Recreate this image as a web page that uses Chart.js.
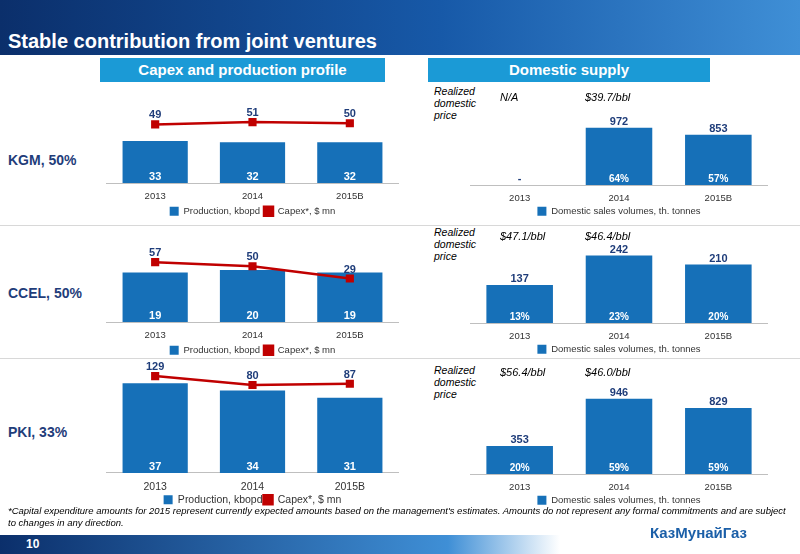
<!DOCTYPE html>
<html><head><meta charset="utf-8">
<script src="https://cdn.jsdelivr.net/npm/chart.js@4"></script>
<style>
body{margin:0;width:800px;height:554px;position:relative;overflow:hidden;background:#fff;font-family:Arial,"Liberation Sans",sans-serif}
.abs{position:absolute}
#hdr{left:0;top:0;width:800px;height:55px;background:linear-gradient(90deg,#0b2f6b 0%,#1759a8 55%,#3f8fd6 100%)}
#title{left:8px;top:30px;color:#fff;font-weight:bold;font-size:20px}
.sec{top:58px;height:24px;background:#1b9ad6;color:#fff;font-weight:bold;font-size:15px;text-align:center;line-height:24px}
.row{left:8px;color:#1f3d7a;font-weight:bold;font-size:14px}
.rdp{left:434px;font-style:italic;font-size:10.5px;line-height:12px}
.price{font-style:italic;font-size:11px}
.sep{left:0;width:800px;height:1px;background:#d8d8d8}
canvas{position:absolute}
#note{left:8px;top:505px;width:780px;font-style:italic;font-size:9.5px;line-height:12px}
#foot{left:0;top:535px;width:560px;height:19px;background:linear-gradient(90deg,#0b2f6b,#3f8fd6 80%,#fff)}
#pg{left:26px;top:537px;color:#fff;font-weight:bold;font-size:12px}
#logo{left:650px;top:524px;color:#1b5fa8;font-weight:bold;font-size:15px}
</style></head><body>
<div id="hdr" class="abs"></div>
<div id="title" class="abs">Stable contribution from joint ventures</div>
<div class="abs sec" style="left:100px;width:285px">Capex and production profile</div>
<div class="abs sec" style="left:428px;width:282px">Domestic supply</div>
<div class="abs row" style="top:152px">KGM, 50%</div>
<div class="abs row" style="top:285px">CCEL, 50%</div>
<div class="abs row" style="top:424px">PKI, 33%</div>
<div class="abs sep" style="top:225px"></div>
<div class="abs sep" style="top:358px"></div>
<div class="abs rdp" style="top:85px">Realized<br>domestic<br>price</div>
<div class="abs rdp" style="top:226px">Realized<br>domestic<br>price</div>
<div class="abs rdp" style="top:364px">Realized<br>domestic<br>price</div>
<canvas id="l1" class="abs"></canvas><canvas id="l2"></canvas><canvas id="l3"></canvas>
<canvas id="r1"></canvas><canvas id="r2"></canvas><canvas id="r3"></canvas>
<div id="note" class="abs">*Capital expenditure amounts for 2015 represent currently expected amounts based on the management's estimates. Amounts do not represent any formal commitments and are subject to changes in any direction.</div>
<div id="foot" class="abs"></div>
<div id="pg" class="abs">10</div>
<div id="logo" class="abs">КазМунайГаз</div>
<script>
const years = ["2013", "2014", "2015B"];
const kgmProd = [33, 32, 32], kgmCapex = [49, 51, 50];
const ccelProd = [19, 20, 19], ccelCapex = [57, 50, 29];
const pkiProd = [37, 34, 31], pkiCapex = [129, 80, 87];
const kgmSales = [0, 972, 853], kgmShare = [null, "64%", "57%"];
const ccelSales = [137, 242, 210], ccelShare = ["13%", "23%", "20%"];
const pkiSales = [353, 946, 829], pkiShare = ["20%", "59%", "59%"];
const prices = [["N/A", "$39.7/bbl"], ["$47.1/bbl", "$46.4/bbl"], ["$56.4/bbl", "$46.0/bbl"]];

const BLUE = "#1670b8", RED = "#c00000", NAVY = "#1f3d7a";

const labelsPlugin = {
  id: "lbls",
  afterDatasetsDraw(chart) {
    const ctx = chart.ctx;
    const o = chart.options.plugins.lbls;
    ctx.save();
    ctx.textAlign = "center";
    ctx.font = "bold 11px Arial";
    chart.data.datasets.forEach((ds, di) => {
      chart.getDatasetMeta(di).data.forEach((el, i) => {
        const v = ds.data[i];
        if (ds.type === "line") {
          ctx.fillStyle = NAVY;
          ctx.fillText(v, el.x, el.y - 9);
        } else if (o.inside) {
          ctx.fillStyle = "#fff";
          ctx.fillText(v, el.x, el.base - 6);
        } else {
          ctx.fillStyle = NAVY;
          ctx.fillText(v === 0 ? "-" : v, el.x, el.y - 6);
          if (o.share[i]) { ctx.fillStyle = "#fff"; ctx.font = "bold 10px Arial"; ctx.fillText(o.share[i], el.x, el.base - 6); ctx.font = "bold 11px Arial"; }
        }
      });
    });
    ctx.restore();
  }
};

function place(id, x, y, w, h) {
  const c = document.getElementById(id);
  c.style.left = x + "px"; c.style.top = y + "px";
  c.style.width = w + "px"; c.style.height = h + "px";
  c.width = w; c.height = h;
  return c;
}

const xAxis = fs => ({ grid: { display: false }, border: { color: "#bfbfbf" }, ticks: { color: "#333", font: { size: fs }, padding: 0 } });
const legend = (fs, pad) => ({ position: "bottom", labels: { boxWidth: 9, boxHeight: 9, font: { size: fs }, color: "#333", padding: pad } });

function leftChart(id, y, h, padTop, legPad, prod, capex, bmax, lmin, lmax, fs) {
  new Chart(place(id, 100, y, 305, h), {
    type: "bar",
    data: { labels: years, datasets: [
      { type: "line", label: "Capex*, $ mn", data: capex, borderColor: RED, backgroundColor: RED, borderWidth: 2.5, pointStyle: "rect", pointRadius: 4, yAxisID: "y2", order: 0 },
      { label: "Production, kbopd", data: prod, backgroundColor: BLUE, categoryPercentage: 0.67, barPercentage: 1, order: 1 }
    ] },
    options: {
      animation: false, responsive: false,
      layout: { padding: { top: padTop } },
      plugins: { legend: { ...legend(fs, legPad), reverse: true }, tooltip: { enabled: false }, lbls: { inside: true } },
      scales: { x: xAxis(fs), y: { display: false, min: 0, max: bmax }, y2: { display: false, min: lmin, max: lmax } }
    },
    plugins: [labelsPlugin]
  });
}

function rightChart(id, y, h, sales, share, max) {
  new Chart(place(id, 470, y, 298, h), {
    type: "bar",
    data: { labels: years, datasets: [
      { label: "Domestic sales volumes, th. tonnes", data: sales, backgroundColor: BLUE, categoryPercentage: 0.67, barPercentage: 1 }
    ] },
    options: {
      animation: false, responsive: false,
      plugins: { legend: legend(9.5, 2), tooltip: { enabled: false }, lbls: { inside: false, share: share } },
      scales: { x: xAxis(9.5), y: { display: false, min: 0, max: max } }
    },
    plugins: [labelsPlugin]
  });
}

leftChart("l1", 100, 126, 0, 4, kgmProd, kgmCapex, 60, 0, 64, 9.5);
leftChart("l2", 240, 125, 0, 4, ccelProd, ccelCapex, 29, -46, 84, 9.5);
leftChart("l3", 355, 160, 10, 1, pkiProd, pkiCapex, 44.5, -404, 190, 10.5);
rightChart("r1", 100, 126, kgmSales, kgmShare, 1440);
rightChart("r2", 240, 124, ccelSales, ccelShare, 298);
rightChart("r3", 365, 150, pkiSales, pkiShare, 1368);

// realized price texts above the chart categories
const priceTops = [91, 230, 366];
prices.forEach((row, r) => row.forEach((t, i) => {
  const d = document.createElement("div");
  d.className = "abs price";
  d.textContent = t;
  d.style.top = priceTops[r] + "px";
  d.style.left = (i === 0 ? 500 : 585) + "px";
  document.body.appendChild(d);
}));
</script>
</body></html>
